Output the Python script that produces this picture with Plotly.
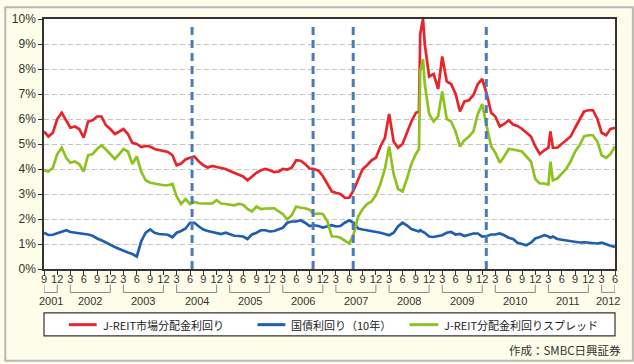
import pandas as pd
import plotly.graph_objects as go

# ---------------- data ----------------
start_month = "2001-09-01"
end_month = "2012-06-01"
months = pd.date_range(start_month, end_month, freq="MS")  # 130 monthly points

reit_yield = [
    5.5, 5.3, 5.45, 6.0,                                              # 2001 Sep-Dec
    6.25, 5.95, 5.65, 5.7, 5.6, 5.25, 5.9, 5.95, 6.1, 6.1, 5.75, 5.6,  # 2002
    5.4, 5.5, 5.6, 5.4, 5.05, 5.0, 4.88, 4.92, 4.9, 4.8, 4.76, 4.72,   # 2003
    4.68, 4.55, 4.15, 4.22, 4.38, 4.45, 4.5, 4.3, 4.15, 4.06, 4.12, 4.08,  # 2004
    4.05, 4.0, 3.92, 3.85, 3.8, 3.7, 3.55, 3.72, 3.85, 3.95, 4.0, 3.95,    # 2005
    3.88, 3.9, 4.0, 3.98, 4.05, 4.35, 4.33, 4.2, 4.02, 4.0, 3.93, 3.72,    # 2006
    3.42, 3.1, 3.05, 3.0, 2.85, 2.85, 3.15, 3.6, 4.0, 4.15, 4.35, 4.45,    # 2007
    4.9, 5.25, 6.2, 5.1, 4.85, 5.0, 5.45, 5.9, 6.25, 9.4, 9.0, 7.7,        # 2008
    7.8, 7.2, 8.5, 7.5, 7.4, 7.0, 6.3, 6.7, 6.75, 6.95, 7.4, 7.6,          # 2009
    7.0, 6.25, 6.1, 5.7, 5.8, 5.95, 5.78, 5.72, 5.6, 5.45, 5.3, 4.9,       # 2010
    4.6, 4.75, 4.85, 4.85, 4.85, 5.0, 5.15, 5.3, 5.65, 5.95, 6.3, 6.35,    # 2011
    6.35, 6.0, 5.45, 5.35, 5.6, 5.65,                                      # 2012 Jan-Jun
]

jgb_yield = [
    1.45, 1.36, 1.37, 1.42,
    1.5, 1.55, 1.48, 1.45, 1.45, 1.42, 1.38, 1.33, 1.22, 1.15, 1.05, 0.95,
    0.88, 0.8, 0.72, 0.66, 0.6, 0.5, 1.1, 1.45, 1.58, 1.45, 1.4, 1.38,
    1.37, 1.27, 1.45, 1.52, 1.62, 1.85, 1.85, 1.7, 1.58, 1.52, 1.48, 1.42,
    1.4, 1.45, 1.4, 1.33, 1.32, 1.3, 1.2, 1.38, 1.45, 1.55, 1.55, 1.5,
    1.52, 1.58, 1.65, 1.85, 1.9, 1.9, 1.95, 1.85, 1.72, 1.75, 1.72, 1.66,
    1.7, 1.75, 1.7, 1.72, 1.85, 1.95, 1.85, 1.62, 1.58, 1.55, 1.52, 1.5,
    1.45, 1.4, 1.35, 1.45, 1.7, 1.85, 1.75, 1.6, 1.55, 1.55, 1.45, 1.3,
    1.28, 1.32, 1.35, 1.45, 1.48, 1.38, 1.4, 1.32, 1.38, 1.42, 1.42, 1.3,
    1.32, 1.38, 1.38, 1.42, 1.35, 1.25, 1.2, 1.05, 1.0, 0.95, 1.05, 1.22,
    1.28, 1.35, 1.3, 1.3, 1.2, 1.17, 1.14, 1.1, 1.07, 1.06, 1.07, 1.05,
    1.03, 1.02, 1.05, 0.98, 0.93, 0.88,
]

spread = [
    3.95, 3.9, 4.05, 4.6,
    4.85, 4.45, 4.25, 4.3, 4.2, 3.9, 4.55, 4.6, 4.8, 4.95, 4.78, 4.6,
    4.4, 4.6, 4.8, 4.7, 4.2, 4.5, 3.9, 3.55, 3.45, 3.42, 3.38, 3.35,
    3.35, 3.4, 2.9, 2.6, 2.8, 2.6, 2.68, 2.63, 2.62, 2.62, 2.62, 2.75,
    2.62, 2.6, 2.58, 2.55, 2.6, 2.57, 2.4, 2.3, 2.5, 2.4, 2.42, 2.43,
    2.43, 2.3, 2.2, 1.98, 2.15, 2.5, 2.45, 2.43, 2.37, 2.2, 2.22, 2.2,
    1.92, 1.3, 1.3, 1.25, 1.12, 1.02, 1.4, 2.1, 2.4, 2.6, 2.7, 2.95,
    3.4, 4.0, 4.9, 3.8, 3.2, 3.1, 3.6, 4.2, 4.6, 7.9, 7.4, 6.2,
    5.9, 6.1, 7.1, 6.0, 5.9, 5.5, 4.9, 5.15, 5.3, 5.5, 6.2, 6.6,
    5.7, 4.9, 4.65, 4.25, 4.5, 4.8, 4.78, 4.75, 4.7, 4.5, 4.3, 3.6,
    3.42, 3.42, 3.38, 3.55, 3.62, 3.8, 4.0, 4.3, 4.7, 4.95, 5.3, 5.35,
    5.35, 5.1, 4.55, 4.45, 4.6, 4.9,
]

# extra readings at sharp spikes between month starts
extra_dates = ["2008-09-22", "2008-10-20", "2011-03-15"]
extra_reit = [6.3, 10.0, 5.5]
extra_jgb = [1.5, 1.5, 1.25]
extra_spread = [4.8, 8.4, 4.3]

# dates of the vertical dashed markers
event_dates = ["2004-06-15", "2006-09-25", "2007-06-28", "2009-12-29"]

series_names = ["J-REIT市場分配金利回り", "国債利回り（10年）", "J-REIT分配金利回りスプレッド"]
series_colors = ["#e8232a", "#1f5fae", "#8dc21f"]
source_text = "作成：SMBC日興証券"

# ---------------- build frame ----------------
df = pd.DataFrame({"date": months, "reit": reit_yield, "jgb": jgb_yield, "spread": spread})
df_extra = pd.DataFrame({"date": pd.to_datetime(extra_dates), "reit": extra_reit,
                         "jgb": extra_jgb, "spread": extra_spread})
df = pd.concat([df, df_extra]).sort_values("date").reset_index(drop=True)

# ---------------- figure geometry ----------------
W, H = 634, 364
ML, MR, MT, MB = 40, 19, 13, 95
PW, PH = W - ML - MR, H - MT - MB


def px2x(px):
    return (px - ML) / PW


def px2y(py):
    return (MT + PH - py) / PH


FONT = "Liberation Sans, Arial, Noto Sans CJK JP, sans-serif"
JFONT = "Noto Sans CJK JP, sans-serif"

fig = go.Figure()
for col, name, color in zip(["reit", "jgb", "spread"], series_names, series_colors):
    fig.add_trace(go.Scatter(x=df["date"], y=df[col], mode="lines", name=name,
                             line=dict(color=color, width=2.7), showlegend=False))

# ticks every 3 months
tick_dates = pd.date_range(start_month, end_month, freq="3MS")
tick_text = [str(d.month) for d in tick_dates]

shapes = []
annotations = []

# event dashed lines
for d in event_dates:
    shapes.append(dict(type="line", xref="x", yref="y", x0=d, x1=d, y0=0, y1=9.88,
                       line=dict(color="#4a7bb7", width=3, dash="8px,5px"), layer="above"))

# year brackets
years = sorted(set(d.year for d in tick_dates))
for yr in years:
    td = [d for d in tick_dates if d.year == yr]
    a, b = td[0], td[-1]
    yb_top, yb_bot = px2y(285), px2y(293)
    for xx in (a, b):
        shapes.append(dict(type="line", xref="x", yref="paper", x0=xx, x1=xx,
                           y0=yb_top, y1=yb_bot, line=dict(color="#8a8a8a", width=1)))
    shapes.append(dict(type="line", xref="x", yref="paper", x0=a, x1=b,
                       y0=yb_bot, y1=yb_bot, line=dict(color="#8a8a8a", width=1)))
    mid = a + (b - a) / 2
    annotations.append(dict(x=mid, y=px2y(302), xref="x", yref="paper", text=str(yr),
                            showarrow=False, xanchor="center", yanchor="middle",
                            font=dict(family=FONT, size=11, color="#333")))

# legend box (drawn)
shapes.append(dict(type="rect", xref="paper", yref="paper", x0=0, x1=1,
                   y0=px2y(337.5), y1=px2y(314), line=dict(color="#333", width=1.2),
                   fillcolor="white"))
leg_y = px2y(326)
leg_lines = [(65, 93, 97), (255, 283, 287), (408, 437, 441)]
for (x0, x1, xt), name, color in zip(leg_lines, series_names, series_colors):
    shapes.append(dict(type="line", xref="paper", yref="paper", x0=px2x(x0), x1=px2x(x1),
                       y0=leg_y, y1=leg_y, line=dict(color=color, width=3)))
    annotations.append(dict(x=px2x(xt), y=leg_y, xref="paper", yref="paper", text=name,
                            showarrow=False, xanchor="left", yanchor="middle",
                            font=dict(family=JFONT, size=11, color="#222")))

# source
annotations.append(dict(x=px2x(623), y=px2y(352), xref="paper", yref="paper", text=source_text,
                        showarrow=False, xanchor="right", yanchor="middle",
                        font=dict(family=JFONT, size=11.5, color="#333")))

# outer frame
shapes.append(dict(type="rect", xref="paper", yref="paper", x0=px2x(1), x1=px2x(633),
                   y0=px2y(363), y1=px2y(1), line=dict(color="#b8b8b8", width=2), layer="below"))

fig.update_layout(
    width=W, height=H,
    margin=dict(l=ML, r=MR, t=MT, b=MB, pad=0),
    paper_bgcolor="#fefde9",
    plot_bgcolor="white",
    shapes=shapes,
    annotations=annotations,
    xaxis=dict(type="date", range=[start_month, end_month], tickmode="array",
               tickvals=tick_dates, ticktext=tick_text, tickangle=0,
               showgrid=False, zeroline=False,
               showline=True, mirror=True, linecolor="#333", linewidth=1.5,
               ticks="outside", ticklen=4, tickcolor="#333", tickwidth=1,
               ticklabelstandoff=-5,
               tickfont=dict(family=FONT, size=11, color="#333")),
    yaxis=dict(range=[0, 10], tickmode="linear", tick0=0, dtick=1, ticksuffix="%",
               showgrid=True, gridcolor="#c4c4c4", gridwidth=1, griddash="5px,3px",
               zeroline=False, showline=True, mirror=True, linecolor="#333", linewidth=1.5,
               ticks="outside", ticklen=4, tickcolor="#333", tickwidth=1,
               tickfont=dict(family=FONT, size=12, color="#333")),
)

fig.write_html(
    "out.html",
    config={"displayModeBar": False},
    post_script="document.body.style.margin='0';document.body.style.padding='0';"
                "document.body.style.overflow='hidden';",
)
